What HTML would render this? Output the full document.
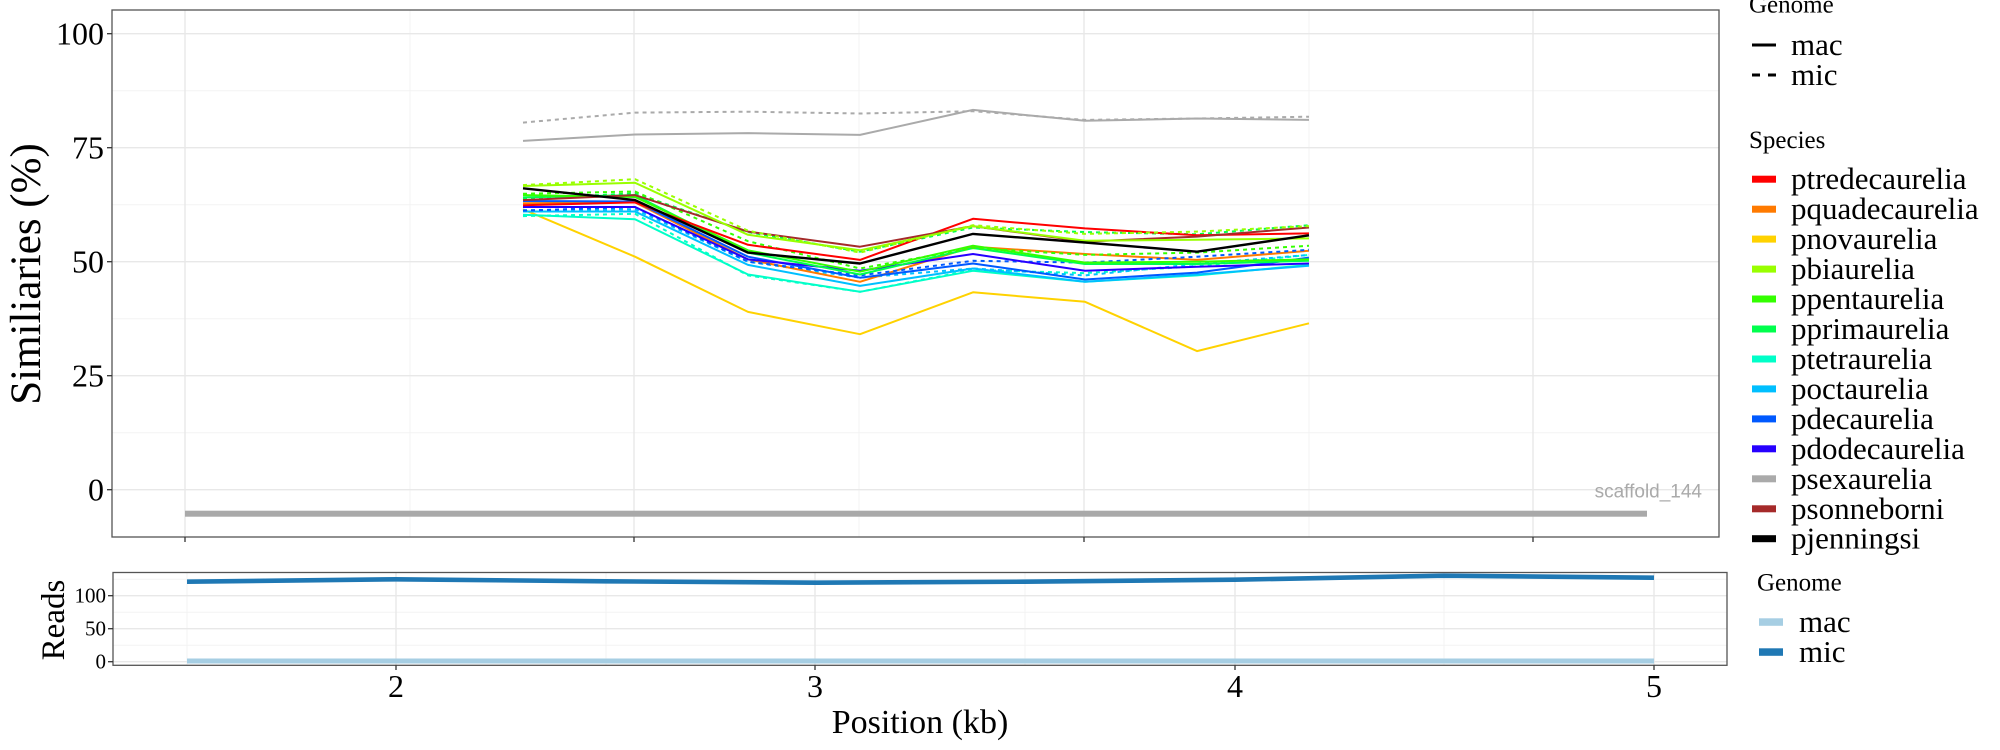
<!DOCTYPE html>
<html><head><meta charset="utf-8"><style>
html,body{margin:0;padding:0;background:#fff;}
svg{display:block;}
text{font-family:"Liberation Serif","DejaVu Serif",serif;fill:#000;}
</style></head><body>
<svg width="2000" height="750" viewBox="0 0 2000 750" xmlns="http://www.w3.org/2000/svg">
<rect x="0" y="0" width="2000" height="750" fill="#fff"/>
<!-- TOP PANEL -->
<g>
<!-- minor grid -->
<g stroke="#f3f3f3" stroke-width="1">
<line x1="112" x2="1719" y1="432.7" y2="432.7"/>
<line x1="112" x2="1719" y1="318.7" y2="318.7"/>
<line x1="112" x2="1719" y1="204.7" y2="204.7"/>
<line x1="112" x2="1719" y1="90.7" y2="90.7"/>
<line x1="410" x2="410" y1="10" y2="537"/>
<line x1="859" x2="859" y1="10" y2="537"/>
<line x1="1309" x2="1309" y1="10" y2="537"/>
</g>
<!-- major grid -->
<g stroke="#e8e8e8" stroke-width="1.4">
<line x1="112" x2="1719" y1="489.7" y2="489.7"/>
<line x1="112" x2="1719" y1="375.7" y2="375.7"/>
<line x1="112" x2="1719" y1="261.7" y2="261.7"/>
<line x1="112" x2="1719" y1="147.7" y2="147.7"/>
<line x1="112" x2="1719" y1="33.7" y2="33.7"/>
<line x1="185" x2="185" y1="10" y2="537"/>
<line x1="634" x2="634" y1="10" y2="537"/>
<line x1="1084" x2="1084" y1="10" y2="537"/>
<line x1="1533" x2="1533" y1="10" y2="537"/>
</g>
<!-- scaffold bar -->
<rect x="185" y="510.7" width="1462" height="6" fill="#a9a9a9"/>
<text x="1702" y="497.7" text-anchor="end" style="font-family:'Liberation Sans',Arial,sans-serif;font-size:19px;fill:#aaaaaa">scaffold_144</text>

<!-- series -->
<g fill="none" stroke-width="2" stroke-linejoin="round">
<polyline stroke="#aaaaaa" points="523,140.9 635,134.5 748,133.1 860,134.9 973,109.9 1085,120.8 1197,118.5 1309,119.9"/>
<polyline stroke="#aaaaaa" stroke-dasharray="4 4" points="523,122.6 635,112.6 748,111.7 860,113.5 973,111.2 1085,119.9 1197,118.5 1309,116.7"/>
<polyline stroke="#ffd200" points="523,209.3 635,256.7 748,311.9 860,334.2 973,292.3 1085,301.8 1197,351.1 1309,323.3"/>

<polyline stroke="#00ffc8" points="523,214.7 635,219.3 748,274.5 860,291.8 973,270.8 1085,281.8 1197,275.4 1309,264.9"/>
<polyline stroke="#00ffc8" stroke-dasharray="4 4" points="523,216.1 635,213.8 748,275.4 860,291.8 973,269.9 1085,273.1 1197,266.3 1309,254.9"/>
<polyline stroke="#00bfff" points="523,211.5 635,211.5 748,264.9 860,285.9 973,268.5 1085,281.8 1197,274.5 1309,265.8"/>
<polyline stroke="#00bfff" stroke-dasharray="4 4" points="523,210.2 635,209.3 748,261.7 860,277.7 973,268.5 1085,275.4 1197,264.0 1309,254.9"/>
<polyline stroke="#ff7a00" points="523,203.3 635,202.4 748,259.4 860,281.8 973,246.7 1085,254.0 1197,259.9 1309,250.8"/>
<polyline stroke="#0059ff" points="523,201.0 635,201.5 748,256.7 860,277.7 973,263.5 1085,279.5 1197,272.6 1309,257.6"/>
<polyline stroke="#0059ff" stroke-dasharray="4 4" points="523,210.6 635,207.0 748,261.7 860,275.4 973,260.8 1085,262.6 1197,256.7 1309,249.8"/>
<polyline stroke="#2600ff" points="523,207.0 635,207.0 748,259.4 860,270.8 973,254.0 1085,270.8 1197,266.7 1309,263.5"/>
<polyline stroke="#00ff4d" points="523,197.4 635,195.1 748,252.6 860,274.5 973,248.0 1085,264.0 1197,264.0 1309,260.8"/>
<polyline stroke="#00ff4d" stroke-dasharray="4 4" points="523,198.8 635,193.3 748,232.1 860,251.7 973,227.5 1085,232.1 1197,234.3 1309,225.2"/>
<polyline stroke="#33ff00" points="523,195.1 635,197.0 748,250.3 860,271.7 973,245.7 1085,262.6 1197,261.7 1309,259.4"/>
<polyline stroke="#33ff00" stroke-dasharray="4 4" points="523,193.8 635,191.5 748,241.2 860,268.5 973,248.0 1085,254.9 1197,252.6 1309,245.7"/>
<polyline stroke="#ff0000" points="523,205.2 635,202.4 748,244.8 860,259.9 973,218.8 1085,228.4 1197,235.3 1309,233.4"/>
<polyline stroke="#a52a2a" points="523,200.1 635,195.1 748,231.6 860,246.7 973,226.1 1085,241.6 1197,236.6 1309,227.5"/>
<polyline stroke="#99ff00" points="523,186.0 635,182.8 748,234.8 860,250.3 973,226.1 1085,240.7 1197,239.8 1309,238.4"/>
<polyline stroke="#99ff00" stroke-dasharray="4 4" points="523,185.1 635,179.2 748,230.7 860,252.6 973,225.2 1085,233.9 1197,231.6 1309,226.1"/>
<polyline stroke="#000000" stroke-width="2.4" points="523,188.3 635,200.1 748,252.6 860,263.5 973,233.9 1085,242.5 1197,251.7 1309,235.3"/>
</g>

<!-- frame -->
<rect x="112" y="10" width="1607" height="527" fill="none" stroke="#555" stroke-width="1.3"/>
<!-- y ticks -->
<g stroke="#333" stroke-width="1.3">
<line x1="107" x2="112" y1="489.7" y2="489.7"/>
<line x1="107" x2="112" y1="375.7" y2="375.7"/>
<line x1="107" x2="112" y1="261.7" y2="261.7"/>
<line x1="107" x2="112" y1="147.7" y2="147.7"/>
<line x1="107" x2="112" y1="33.7" y2="33.7"/>
<line x1="185" x2="185" y1="537" y2="542"/>
<line x1="634" x2="634" y1="537" y2="542"/>
<line x1="1084" x2="1084" y1="537" y2="542"/>
<line x1="1533" x2="1533" y1="537" y2="542"/>
</g>
<g style="font-size:32px" text-anchor="end">
<text x="104" y="500.7">0</text>
<text x="104" y="386.7">25</text>
<text x="104" y="272.7">50</text>
<text x="104" y="158.7">75</text>
<text x="104" y="44.7">100</text>
</g>
<text transform="translate(40,274) rotate(-90)" text-anchor="middle" style="font-size:43px">Similiaries (%)</text>
</g>

<!-- TOP LEGEND -->
<g>
<text x="1749" y="12.5" style="font-size:25px">Genome</text>
<line x1="1752" x2="1776" y1="45" y2="45" stroke="#000" stroke-width="3"/>
<line x1="1752" x2="1776" y1="75" y2="75" stroke="#000" stroke-width="3" stroke-dasharray="8 8"/>
<text x="1791" y="55" style="font-size:31px">mac</text>
<text x="1791" y="85" style="font-size:31px">mic</text>
<text x="1749" y="148" style="font-size:25px">Species</text>
<g>
<rect x="1752" y="175.7" width="24" height="7" fill="#ff0000"/>
<rect x="1752" y="205.7" width="24" height="7" fill="#ff7a00"/>
<rect x="1752" y="235.6" width="24" height="7" fill="#ffd200"/>
<rect x="1752" y="265.6" width="24" height="7" fill="#99ff00"/>
<rect x="1752" y="295.5" width="24" height="7" fill="#33ff00"/>
<rect x="1752" y="325.5" width="24" height="7" fill="#00ff4d"/>
<rect x="1752" y="355.5" width="24" height="7" fill="#00ffc8"/>
<rect x="1752" y="385.4" width="24" height="7" fill="#00bfff"/>
<rect x="1752" y="415.4" width="24" height="7" fill="#0059ff"/>
<rect x="1752" y="445.3" width="24" height="7" fill="#2600ff"/>
<rect x="1752" y="475.3" width="24" height="7" fill="#aaaaaa"/>
<rect x="1752" y="505.3" width="24" height="7" fill="#a52a2a"/>
<rect x="1752" y="535.2" width="24" height="7" fill="#000000"/>
</g>
<g style="font-size:31px">
<text x="1791" y="189.2">ptredecaurelia</text>
<text x="1791" y="219.2">pquadecaurelia</text>
<text x="1791" y="249.1">pnovaurelia</text>
<text x="1791" y="279.1">pbiaurelia</text>
<text x="1791" y="309.0">ppentaurelia</text>
<text x="1791" y="339.0">pprimaurelia</text>
<text x="1791" y="369.0">ptetraurelia</text>
<text x="1791" y="398.9">poctaurelia</text>
<text x="1791" y="428.9">pdecaurelia</text>
<text x="1791" y="458.8">pdodecaurelia</text>
<text x="1791" y="488.8">psexaurelia</text>
<text x="1791" y="518.8">psonneborni</text>
<text x="1791" y="548.7">pjenningsi</text>
</g>
</g>

<!-- BOTTOM PANEL -->
<g>
<g stroke="#f3f3f3" stroke-width="1">
<line x1="113" x2="1727" y1="645.2" y2="645.2"/>
<line x1="113" x2="1727" y1="612.2" y2="612.2"/>
<line x1="113" x2="1727" y1="579.2" y2="579.2"/>
<line x1="187" x2="187" y1="572.5" y2="665.3"/>
<line x1="606" x2="606" y1="572.5" y2="665.3"/>
<line x1="1025" x2="1025" y1="572.5" y2="665.3"/>
<line x1="1444" x2="1444" y1="572.5" y2="665.3"/>
</g>
<g stroke="#e8e8e8" stroke-width="1.4">
<line x1="113" x2="1727" y1="661.7" y2="661.7"/>
<line x1="113" x2="1727" y1="628.7" y2="628.7"/>
<line x1="113" x2="1727" y1="595.7" y2="595.7"/>
<line x1="396" x2="396" y1="572.5" y2="665.3"/>
<line x1="815" x2="815" y1="572.5" y2="665.3"/>
<line x1="1235" x2="1235" y1="572.5" y2="665.3"/>
<line x1="1654" x2="1654" y1="572.5" y2="665.3"/>
</g>
<line x1="187" x2="1654" y1="661" y2="661" stroke="#a6cee3" stroke-width="5"/>
<polyline fill="none" stroke="#1f78b4" stroke-width="4.6" stroke-linejoin="round" points="187,581.7 396,579.3 606,581.3 816,582.7 1025,581.7 1235,579.7 1444,575.7 1654,577.7"/>
<rect x="113" y="572.5" width="1614" height="92.8" fill="none" stroke="#555" stroke-width="1.3"/>
<g stroke="#333" stroke-width="1.3">
<line x1="108" x2="113" y1="661.7" y2="661.7"/>
<line x1="108" x2="113" y1="628.7" y2="628.7"/>
<line x1="108" x2="113" y1="595.7" y2="595.7"/>
<line x1="396" x2="396" y1="665.3" y2="670"/>
<line x1="815" x2="815" y1="665.3" y2="670"/>
<line x1="1235" x2="1235" y1="665.3" y2="670"/>
<line x1="1654" x2="1654" y1="665.3" y2="670"/>
</g>
<g style="font-size:21px" text-anchor="end">
<text x="106" y="668.7">0</text>
<text x="106" y="635.7">50</text>
<text x="106" y="602.7">100</text>
</g>
<text transform="translate(64,620) rotate(-90)" text-anchor="middle" style="font-size:33px">Reads</text>
<g style="font-size:32px" text-anchor="middle">
<text x="396" y="697">2</text>
<text x="815" y="697">3</text>
<text x="1235" y="697">4</text>
<text x="1654" y="697">5</text>
</g>
<text x="920" y="733" text-anchor="middle" style="font-size:34px">Position (kb)</text>
</g>

<!-- BOTTOM LEGEND -->
<g>
<text x="1757" y="590.7" style="font-size:25px">Genome</text>
<rect x="1759" y="618.3" width="24" height="7.5" fill="#a6cee3"/>
<rect x="1759" y="648.3" width="24" height="7.5" fill="#1f78b4"/>
<text x="1799" y="632" style="font-size:31px">mac</text>
<text x="1799" y="662" style="font-size:31px">mic</text>
</g>
</svg>
</body></html>
